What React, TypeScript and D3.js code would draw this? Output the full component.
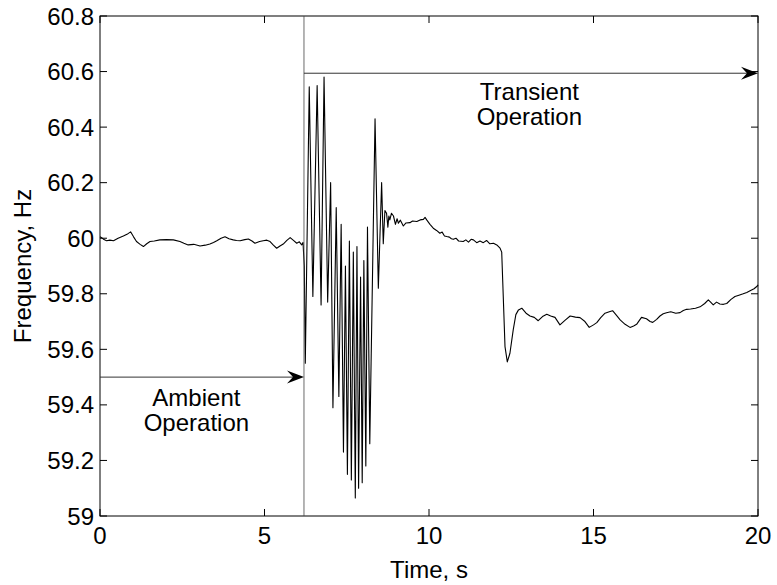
import React from 'react';
import * as d3 from 'd3';

// [time (s), frequency (Hz)]
const samples: [number, number][] = [
  [0.0, 60.005], [0.05, 60.002], [0.12, 59.995], [0.2, 59.991], [0.3, 59.993], [0.41, 59.991],
  [0.55, 60.0], [0.71, 60.008], [0.82, 60.014], [0.93, 60.023], [1.02, 60.005], [1.11, 59.988],
  [1.22, 59.978], [1.32, 59.97], [1.42, 59.98], [1.52, 59.988], [1.65, 59.99], [1.82, 59.994],
  [2.02, 59.995], [2.23, 59.994], [2.43, 59.988], [2.55, 59.982], [2.68, 59.976], [2.85, 59.978],
  [3.04, 59.972], [3.2, 59.975], [3.34, 59.979], [3.45, 59.985], [3.55, 59.991], [3.68, 60.0],
  [3.8, 60.005], [3.92, 59.998], [4.05, 59.994], [4.15, 59.992], [4.26, 59.991], [4.4, 59.995],
  [4.51, 59.997], [4.62, 59.99], [4.71, 59.982], [4.85, 59.988], [4.96, 59.991], [5.07, 59.993],
  [5.17, 59.988], [5.27, 59.975], [5.37, 59.964], [5.47, 59.972], [5.57, 59.979], [5.68, 59.992],
  [5.78, 60.002], [5.88, 59.992], [5.98, 59.982], [6.06, 59.987], [6.13, 59.976], [6.17, 59.985],
  // disturbance
  [6.21, 59.9], [6.24, 59.55], [6.36, 60.545], [6.47, 59.79], [6.6, 60.55], [6.72, 59.76],
  [6.81, 60.58], [6.92, 59.77], [7.01, 60.2], [7.08, 59.39], [7.18, 60.11], [7.26, 59.43],
  [7.33, 60.05], [7.4, 59.23], [7.46, 59.9], [7.52, 59.15], [7.58, 59.99], [7.64, 59.13],
  [7.7, 59.95], [7.76, 59.065], [7.81, 59.97], [7.86, 59.1], [7.92, 59.86], [7.97, 59.12],
  [8.02, 59.92], [8.08, 59.18], [8.13, 60.04], [8.2, 59.26], [8.36, 60.43], [8.46, 59.82],
  [8.56, 60.2], [8.61, 59.98], [8.66, 60.1], [8.71, 60.09], [8.75, 60.04], [8.78, 60.08],
  [8.81, 60.066], [8.86, 60.09], [8.92, 60.08], [8.98, 60.05], [9.03, 60.07], [9.07, 60.054],
  [9.13, 60.065], [9.22, 60.044], [9.3, 60.055], [9.42, 60.056], [9.5, 60.062], [9.63, 60.06],
  [9.73, 60.066], [9.83, 60.068], [9.88, 60.075], [9.93, 60.066], [10.03, 60.05], [10.13, 60.036],
  [10.23, 60.028], [10.33, 60.018], [10.4, 60.022], [10.47, 60.008], [10.54, 60.006], [10.62, 60.004],
  [10.68, 59.998], [10.74, 59.996], [10.82, 60.0], [10.9, 59.99], [11.04, 59.988], [11.12, 59.994],
  [11.2, 59.986], [11.28, 59.996], [11.35, 59.994], [11.45, 59.984], [11.55, 59.99], [11.65, 59.984],
  [11.75, 59.992], [11.85, 59.98], [11.96, 59.982], [12.06, 59.976], [12.16, 59.964], [12.21, 59.95],
  // second event
  [12.26, 59.78], [12.31, 59.61], [12.38, 59.555], [12.46, 59.586], [12.56, 59.67], [12.64, 59.725],
  [12.72, 59.742], [12.82, 59.748], [12.95, 59.73], [13.07, 59.72], [13.2, 59.715], [13.32, 59.703],
  [13.45, 59.718], [13.58, 59.726], [13.7, 59.72], [13.83, 59.715], [13.98, 59.688], [14.14, 59.705],
  [14.29, 59.72], [14.45, 59.716], [14.59, 59.714], [14.74, 59.7], [14.87, 59.679], [15.0, 59.688],
  [15.1, 59.696], [15.22, 59.714], [15.35, 59.73], [15.48, 59.735], [15.58, 59.739], [15.7, 59.722],
  [15.81, 59.706], [15.96, 59.69], [16.11, 59.679], [16.22, 59.684], [16.31, 59.69], [16.4, 59.705],
  [16.46, 59.715], [16.61, 59.71], [16.72, 59.7], [16.8, 59.697], [16.92, 59.708], [17.02, 59.72],
  [17.12, 59.728], [17.22, 59.732], [17.35, 59.735], [17.5, 59.73], [17.63, 59.732], [17.73, 59.74],
  [17.83, 59.744], [17.95, 59.745], [18.1, 59.748], [18.24, 59.753], [18.38, 59.765], [18.49, 59.778],
  [18.56, 59.77], [18.64, 59.76], [18.74, 59.77], [18.84, 59.763], [18.95, 59.762], [19.05, 59.765],
  [19.18, 59.78], [19.3, 59.79], [19.42, 59.795], [19.55, 59.8], [19.66, 59.805], [19.76, 59.811],
  [19.88, 59.818], [19.98, 59.828], [20.0, 59.832],
];

const xTicks = [0, 5, 10, 15, 20];
const yTicks = [59, 59.2, 59.4, 59.6, 59.8, 60, 60.2, 60.4, 60.6, 60.8];

// annotation positions in data units
const eventTime = 6.2;
const ambientLevel = 59.5;
const transientLevel = 60.594;

const font = "'Liberation Sans', Arial, sans-serif";

function Arrow({ x1, x2, y }: { x1: number; x2: number; y: number }) {
  // MATLAB-ish "vback2" head pointing right
  const head = `M${x2},${y} L${x2 - 17},${y - 6.5} L${x2 - 11},${y} L${x2 - 17},${y + 6.5} Z`;
  return (
    <g>
      <line x1={x1} x2={x2 - 10} y1={y} y2={y} stroke="#333" strokeWidth={1} />
      <path d={head} fill="#000" />
    </g>
  );
}

export default function App() {
  const width = 777;
  const height = 585;
  const left = 100, right = 758, top = 16, bottom = 516;
  const tick = 7;

  const x = d3.scaleLinear().domain([0, 20]).range([left, right]);
  const y = d3.scaleLinear().domain([59, 60.8]).range([bottom, top]);
  const fmt = d3.format('~g');

  const line = d3.line<[number, number]>()
    .x(d => x(d[0]))
    .y(d => y(d[1]));

  const ex = x(eventTime);

  return (
    <svg width={width} height={height} style={{ position: 'absolute', left: 0, top: 0, background: '#fff' }}
      fontFamily={font}>
      <rect x={0} y={0} width={width} height={height} fill="#fff" />

      {/* box */}
      <rect x={left} y={top} width={right - left} height={bottom - top} fill="none" stroke="#000" strokeWidth={1} />

      {/* ticks on all four sides, pointing in */}
      {xTicks.map(t => (
        <g key={'x' + t}>
          <line x1={x(t)} x2={x(t)} y1={bottom} y2={bottom - tick} stroke="#000" />
          <line x1={x(t)} x2={x(t)} y1={top} y2={top + tick} stroke="#000" />
          <text x={x(t)} y={bottom + 28} fontSize={24} textAnchor="middle">{fmt(t)}</text>
        </g>
      ))}
      {yTicks.map(v => (
        <g key={'y' + v}>
          <line x1={left} x2={left + tick} y1={y(v)} y2={y(v)} stroke="#000" />
          <line x1={right} x2={right - tick} y1={y(v)} y2={y(v)} stroke="#000" />
          <text x={left - 6} y={y(v) + 8.5} fontSize={24} textAnchor="end">{fmt(v)}</text>
        </g>
      ))}

      {/* trace */}
      <path d={line(samples) || ''} fill="none" stroke="#000" strokeWidth={1.1} strokeLinejoin="round" />

      {/* annotations */}
      <line x1={ex} x2={ex} y1={top} y2={bottom} stroke="#444" strokeWidth={0.8} />
      <Arrow x1={ex} x2={right} y={y(transientLevel)} />
      <Arrow x1={left} x2={ex} y={y(ambientLevel)} />
      <text x={x(2.93)} fontSize={24} textAnchor="middle">
        <tspan x={x(2.93)} y={y(ambientLevel) + 29}>Ambient</tspan>
        <tspan x={x(2.93)} y={y(ambientLevel) + 54}>Operation</tspan>
      </text>
      <text x={x(13.05)} fontSize={24} textAnchor="middle">
        <tspan x={x(13.05)} y={y(transientLevel) + 27}>Transient</tspan>
        <tspan x={x(13.05)} y={y(transientLevel) + 52}>Operation</tspan>
      </text>

      {/* axis titles */}
      <text x={(left + right) / 2} y={578} fontSize={24} textAnchor="middle">Time, s</text>
      <text transform={`translate(31,${(top + bottom) / 2}) rotate(-90)`} fontSize={24} textAnchor="middle">Frequency, Hz</text>
    </svg>
  );
}
